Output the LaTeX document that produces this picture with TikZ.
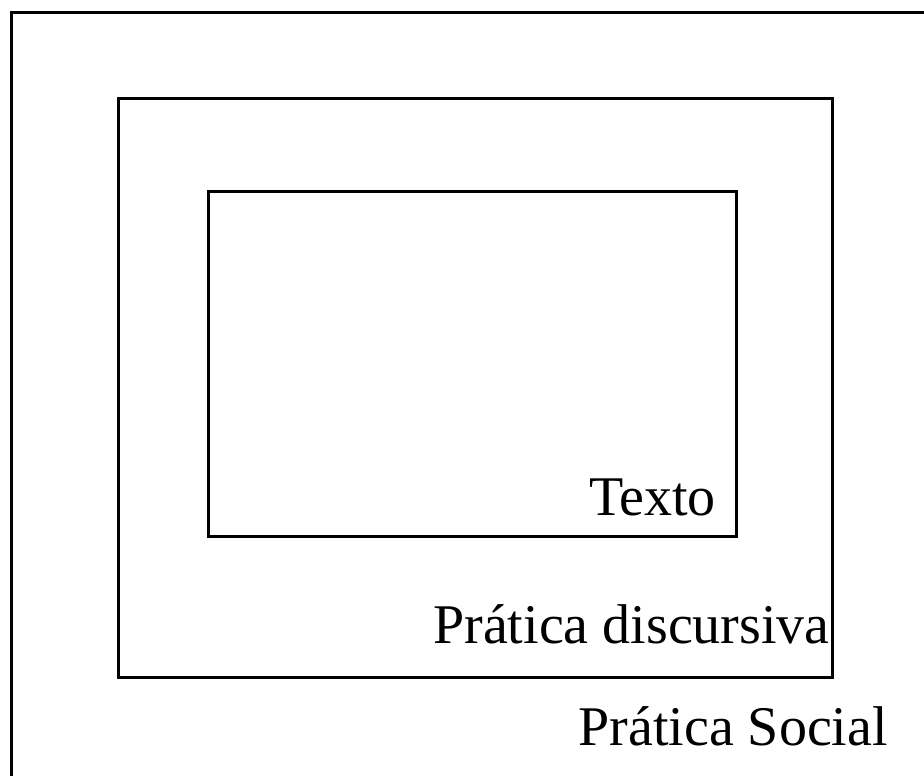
\documentclass[tikz,border=0pt]{standalone}
\usepackage{fontspec}
\setmainfont{Liberation Serif}
\usetikzlibrary{shapes,positioning,calc}

\tikzset{
  caixa/.style={rectangle,draw,line width=3pt,inner sep=0pt},
  rotulo/.style={inner sep=0pt,anchor=base east,font=\fontsize{56}{60}\selectfont}
}

\begin{document}
\begin{tikzpicture}[x=1pt,y=-1pt]
  \useasboundingbox (0,0) rectangle (924,776);
  \clip (0,0) rectangle (924,776);

  \node[caixa,anchor=north west,minimum width=940pt,minimum height=790pt] (social) at (10,11) {};
  \node[caixa,anchor=north west,minimum width=714pt,minimum height=579pt] (discursiva) at (117,97) {};
  \node[caixa,anchor=north west,minimum width=528pt,minimum height=345pt] (texto) at (207,190) {};

  \node[rotulo] (lbltexto) at ($(texto.south east)+(-22,-23)$) {Texto};
  \node[rotulo] (lbldiscursiva) at ($(discursiva.south east)+(-4,-36)$) {Prática discursiva};
  \node[rotulo] (lblsocial) at (888,745) {Prática Social};

\end{tikzpicture}
\end{document}
